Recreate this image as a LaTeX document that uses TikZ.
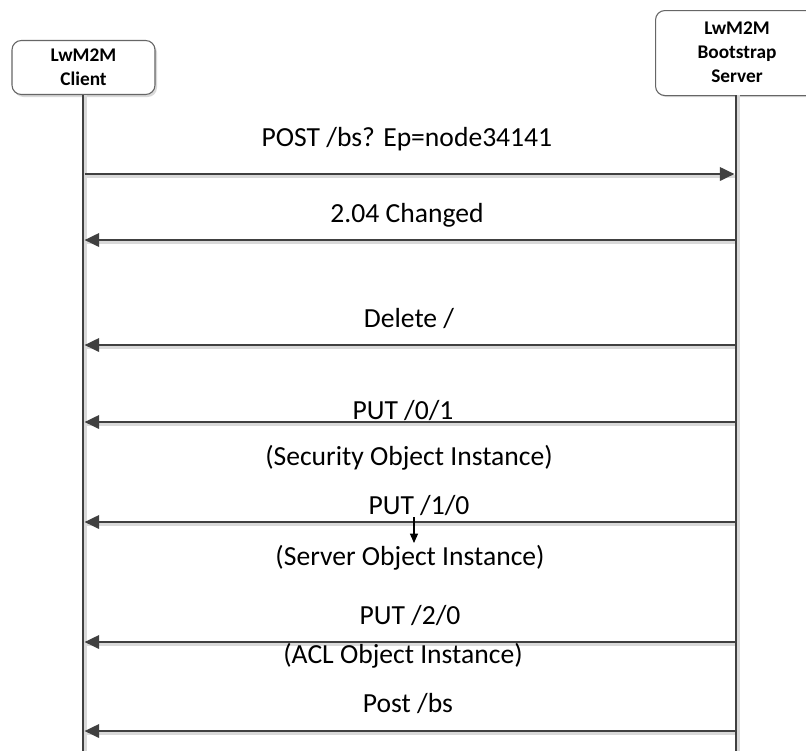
\documentclass[tikz,border=0pt]{standalone}
\usepackage{fontspec}
\setmainfont{Carlito}
\usetikzlibrary{arrows.meta,calc}
\definecolor{ln}{HTML}{404040}
\definecolor{shd}{HTML}{D9D9D9}
\tikzset{
  actor/.style={draw=ln!80, line width=0.8pt, rounded corners=7pt, fill=white, align=center,
    font=\fontsize{14.5}{18}\selectfont\bfseries, inner sep=0pt},
  lifeline/.style={draw=ln, line width=2.2pt},
  lifeshadow/.style={draw=shd, line width=2.2pt},
  msg/.style={draw=ln, line width=2pt, -{Triangle[length=11pt,width=10pt]}},
  msgshadow/.style={draw=shd, line width=2pt},
  lbl/.style={font=\fontsize{20.7}{25}\selectfont, inner sep=0pt, text=black},
}
\begin{document}
\begin{tikzpicture}[x=0.75pt,y=-0.75pt]
\useasboundingbox (0,0) rectangle (806,751);
% boxes (shadows)
\fill[shd, rounded corners=7pt] (14,43) rectangle (157,97);
\fill[shd, rounded corners=7pt] (657,12) rectangle (820,97);
\node[actor, minimum width=143*0.75pt, minimum height=54*0.75pt] (cl) at (83.5,67.5) {LwM2M\\Client};
\node[actor, minimum width=165*0.75pt, minimum height=85*0.75pt, anchor=north west] (bs) at (655,10) {};
\node[font=\fontsize{14.5}{18}\selectfont\bfseries, align=center, inner sep=0pt] (bst) at (737,52.5) {LwM2M\\Bootstrap\\Server};
% lifeline coordinates
\coordinate (ctop) at (83,95);
\coordinate (cbot) at (83,751);
\coordinate (stop) at (736,95);
\coordinate (sbot) at (736,751);
\draw[lifeshadow] ($(ctop)+(2.5,0)$) -- ($(cbot)+(2.5,0)$);
\draw[lifeshadow] ($(stop)+(2.5,0)$) -- ($(sbot)+(2.5,0)$);
\draw[lifeline] (ctop) -- (cbot);
\draw[lifeline] (stop) -- (sbot);
% message endpoints
\foreach \n/\y in {1/174,2/240,3/345,4/422,5/522,6/642,7/731}{
  \coordinate (c\n) at (84.5,\y);
  \coordinate (s\n) at (734.5,\y);
}
% shadows of messages
\foreach \n in {1,...,7}{
  \draw[msgshadow] ($(c\n)+(0,2.5)$) -- ($(s\n)+(0,2.5)$);
}
\draw[msg] (c1) -- (s1);
\foreach \n in {2,...,7}{
  \draw[msg] (s\n) -- (c\n);
}
% labels
\node[lbl] (l1) at (407,139) {POST /bs? Ep=node34141};
\node[lbl] (l2) at (407,215) {2.04 Changed};
\node[lbl] (l3) at (409,318) {Delete /};
\node[lbl] (l4) at (403,410) {PUT /0/1};
\node[lbl] (l5) at (409,458) {(Security Object Instance)};
\node[lbl] (l6) at (419,505) {PUT /1/0};
\node[lbl] (l7) at (410,558) {(Server Object Instance)};
\node[lbl] (l8) at (410,615) {PUT /2/0};
\node[lbl] (l9) at (403,656) {(ACL Object Instance)};
\node[lbl] (l10) at (408,703) {Post /bs};
% small arrow
\coordinate (sa1) at (414,517);
\coordinate (sa2) at (414,543);
\draw[black, line width=0.9pt, -{Triangle[length=7pt,width=6pt]}] (sa1) -- (sa2);
\end{tikzpicture}
\end{document}
